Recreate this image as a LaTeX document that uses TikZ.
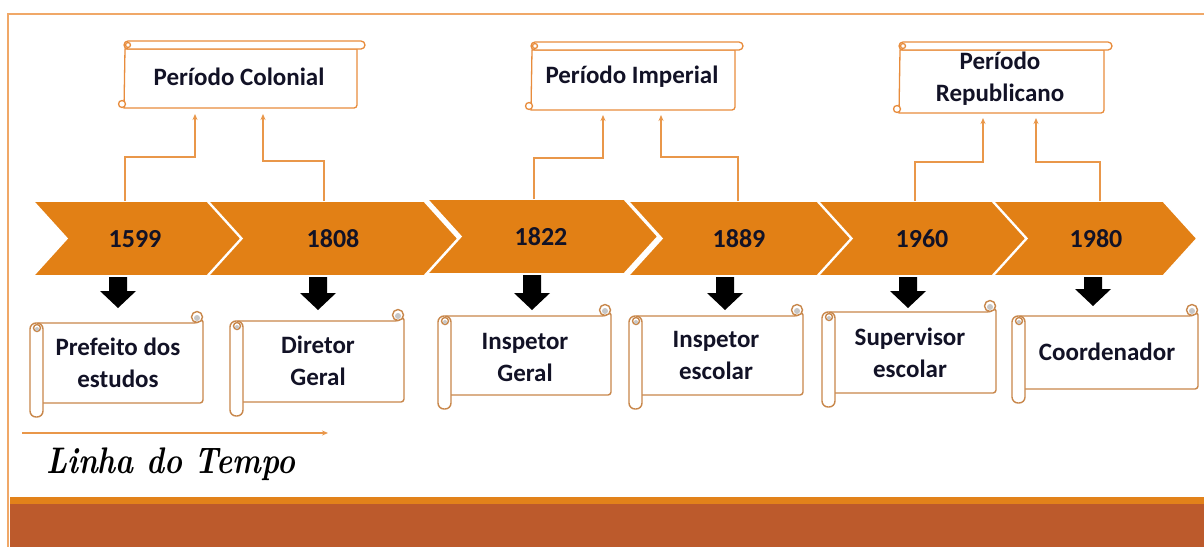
\documentclass[tikz,border=0pt]{standalone}
\usepackage{fontspec}
\newfontfamily\carlitofam{Carlito}
\usetikzlibrary{arrows.meta}
\definecolor{chevor}{RGB}{226,128,21}
\definecolor{connor}{RGB}{233,151,74}
\definecolor{scrb}{RGB}{200,135,75}
\definecolor{scrt}{RGB}{232,140,60}
\definecolor{framec}{RGB}{240,168,104}
\definecolor{barc}{RGB}{188,90,44}
\definecolor{stripc}{RGB}{226,130,26}
\definecolor{txt}{RGB}{18,18,38}
\tikzset{
  chev/.style={fill=chevor,draw=white,line width=1.6pt,line join=miter},
  year/.style={font=\carlitofam\bfseries\fontsize{26}{26}\selectfont,text=txt},
  lab/.style={font=\carlitofam\bfseries\fontsize{25}{32}\selectfont,text=txt,align=center},
  conn/.style={draw=connor,line width=1.1pt,-{Stealth[length=6pt,width=5pt]}},
  scrollb/.style={draw=scrb,line width=1.4pt,fill=white},
  scrollt/.style={draw=scrt,line width=1.3pt,fill=white},
  blk/.style={fill=black},
}
% bottom scroll: L,T,R,B
\newcommand\bscroll[5]{%
  \draw[scrollb,rounded corners=3pt] ({#1+6},{#2+12}) -- ({#3-6},{#2+12}) -- ({#3},{#2+8}) -- (#3,{#4-14}) -- ({#1+8},{#4-14}) -- cycle;
  \draw[scrollb] ({#3-6},{#2+6}) circle (5.5pt);
  \fill[gray!45] ({#3-6},{#2+7}) circle (3pt);
  \draw[scrollb,rounded corners=6pt] (#1,{#2+12}) rectangle ({#1+13},#4);
  \draw[scrollb] ({#1+7},{#2+17}) circle (3.5pt);
  \fill[gray!45] ({#1+7},{#2+18}) circle (2pt);
  \coordinate (#5) at ({(#1+13+#3)/2},{(#2+12+#4-14)/2});
}
% top scroll: L,T,R,B
\newcommand\tscroll[4]{%
  \draw[scrollt] ({#1+7},{#2+8}) -- ({#3-8},{#2+8}) -- ({#3-8},{#4-3}) arc (0:-90:3pt) -- ({#1+6},#4) -- cycle;
  \draw[scrollt,rounded corners=4pt] ({#1+6},#2) rectangle (#3,{#2+8});
  \draw[scrollt] ({#1+10},{#2+4}) circle (2.5pt);
  \draw[scrollt] ({#1+4},{#4-4}) circle (3.5pt);
}
\newcommand\chevron[3]{% left, right-top, y top
  \draw[chev] (#1,#3) -- (#2,#3) -- ({#2+34},{#3+37.5}) -- (#2,{#3+75}) -- (#1,{#3+75}) -- ({#1+34},{#3+37.5}) -- cycle;
}
\newcommand\blkarrow[3]{% x, ytop, ytip
  \fill[blk] ({#1-9},#2) -- ({#1+9},#2) -- ({#1+9},{#3-17}) -- ({#1+18},{#3-17}) -- (#1,#3) -- ({#1-18},{#3-17}) -- ({#1-9},{#3-17}) -- cycle;
}
\begin{document}
\begin{tikzpicture}[x=1pt,y=-1pt]
\useasboundingbox (0,0) rectangle (1204,547);
\fill[white] (0,0) rectangle (1204,547);
% frame
\draw[framec,line width=1.2pt] (1204,14) -- (8,14) -- (8,547);
% bottom bar
\fill[stripc] (10,497) rectangle (1204,504);
\fill[barc] (10,504) rectangle (1204,547);
% chevrons
\chevron{33}{207}{201}
\chevron{208}{424}{201}
\chevron{427}{624}{199}
\chevron{628}{817}{201}
\chevron{818}{992}{201}
\chevron{993}{1163}{201}
\node[year] (y1599) at (135,239) {1599};
\node[year] (y1808) at (333,239) {1808};
\node[year] (y1822) at (541,237) {1822};
\node[year] (y1889) at (739,239) {1889};
\node[year] (y1960) at (922,239) {1960};
\node[year] (y1980) at (1096,239) {1980};
% black arrows
\blkarrow{118}{277}{308}
\blkarrow{318}{277}{310}
\blkarrow{532}{275}{310}
\blkarrow{725}{277}{310}
\blkarrow{908}{277}{308}
\blkarrow{1093}{277}{306}
% bottom scrolls
\bscroll{30}{311}{203}{417}{b1}
\bscroll{230}{309}{404}{416}{b2}
\bscroll{438}{304}{611}{409}{b3}
\bscroll{629}{304}{803}{409}{b4}
\bscroll{822}{300}{996}{407}{b5}
\bscroll{1012}{304}{1198}{403}{b6}
\node[lab] (t1) at (118,363) {Prefeito dos\\estudos};
\node[lab] (t2) at (318,361) {Diretor\\Geral};
\node[lab] (t3) at (525,357) {Inspetor\\Geral};
\node[lab] (t4) at (716,355) {Inspetor\\escolar};
\node[lab] (t5) at (910,353) {Supervisor\\escolar};
\node[lab] (t6) at (1107,352) {Coordenador};
% top scrolls
\tscroll{118}{41}{365}{108}
\tscroll{525}{42}{743}{110}
\tscroll{893}{42}{1112}{113}
\node[lab] (colonial) at (239,77) {Período Colonial};
\node[lab] (imperial) at (632,77) {Período Imperial};
\node[lab] (republicano) at (1000,79) {Período\\Republicano};
% connectors
\coordinate (a1) at (195,114);
\coordinate (a2) at (263,114);
\coordinate (a3) at (603,115);
\coordinate (a4) at (661,115);
\coordinate (a5) at (983,118);
\coordinate (a6) at (1036,118);
\coordinate (s1) at (125,201);
\coordinate (s2) at (324,201);
\coordinate (s3) at (534,199);
\coordinate (s4) at (738,201);
\coordinate (s5) at (915,201);
\coordinate (s6) at (1100,201);
\draw[conn] (s1) -- (125,157) -- (195,157) -- (a1);
\draw[conn] (s2) -- (324,161) -- (263,161) -- (a2);
\draw[conn] (s3) -- (534,158) -- (603,158) -- (a3);
\draw[conn] (s4) -- (738,157) -- (661,157) -- (a4);
\draw[conn] (s5) -- (915,162) -- (983,162) -- (a5);
\draw[conn] (s6) -- (1100,162) -- (1036,162) -- (a6);
% timeline arrow and title
\coordinate (la) at (22,433);
\coordinate (lb) at (328,433);
\draw[conn] (la) -- (lb);
\node[font=\bfseries\itshape\fontsize{37}{37}\selectfont,text=black,anchor=base west,inner sep=0pt] (title) at (46,473) {\scalebox{0.82}[1]{Linha do Tempo}};
\end{tikzpicture}
\end{document}
